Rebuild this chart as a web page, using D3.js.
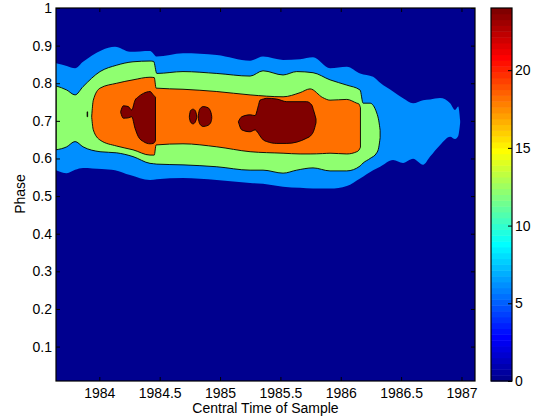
<!DOCTYPE html>
<html><head><meta charset="utf-8">
<script src="https://cdn.jsdelivr.net/npm/d3@7"></script>
<style>body{margin:0;background:#fff}svg{display:block}</style>
</head><body>
<svg id="chart" width="536" height="420"></svg>
<script>
// ---------- data ----------
const xTicks = [1984, 1984.5, 1985, 1985.5, 1986, 1986.5, 1987];
const yTicks = [0.1, 0.2, 0.3, 0.4, 0.5, 0.6, 0.7, 0.8, 0.9, 1];
const cbTicks = [0, 5, 10, 15, 20];
const xDomain = [1983.641, 1987.112];
const yDomain = [0.0085, 1];
const cbDomain = [0, 24];
const levelBase = 0;      // background region level
const levelLightBlue = 6;
const levelGreen = 12;
const levelOrange = 18;
const levelRed = 24;

// light-blue region (level 6)
const lightBlueTime = [1983.641, 1983.730, 1983.799, 1983.865, 1984.020, 1984.130, 1984.254, 1984.420, 1984.476, 1984.693, 1984.973, 1985.249, 1985.356, 1985.522, 1985.663, 1985.770, 1985.911, 1986.050, 1986.160, 1986.268, 1986.326, 1986.433, 1986.516, 1986.599, 1986.682, 1986.740, 1986.823, 1986.906, 1986.947, 1986.973, 1986.989];
const lightBlueHi = [0.853, 0.846, 0.840, 0.857, 0.888, 0.897, 0.884, 0.886, 0.871, 0.880, 0.875, 0.860, 0.871, 0.862, 0.864, 0.869, 0.840, 0.844, 0.826, 0.817, 0.801, 0.778, 0.760, 0.747, 0.755, 0.757, 0.761, 0.747, 0.729, 0.738, 0.700];
const lightBlueLo = [0.569, 0.561, 0.570, 0.575, 0.572, 0.569, 0.556, 0.543, 0.545, 0.548, 0.543, 0.535, 0.533, 0.525, 0.522, 0.520, 0.520, 0.527, 0.547, 0.569, 0.578, 0.596, 0.588, 0.599, 0.583, 0.605, 0.636, 0.658, 0.652, 0.660, 0.695];

// green region (level 12)
const greenTime = [1983.641, 1983.730, 1983.799, 1983.865, 1984.006, 1984.144, 1984.279, 1984.420, 1984.450, 1984.476, 1984.693, 1984.973, 1985.249, 1985.356, 1985.522, 1985.635, 1985.770, 1985.911, 1986.050, 1986.160, 1986.185, 1986.243, 1986.298, 1986.315, 1986.326];
const greenHi = [0.793, 0.782, 0.769, 0.791, 0.831, 0.848, 0.857, 0.859, 0.858, 0.826, 0.831, 0.826, 0.819, 0.833, 0.822, 0.831, 0.828, 0.809, 0.795, 0.782, 0.747, 0.747, 0.721, 0.700, 0.675];
const greenLo = [0.623, 0.631, 0.645, 0.631, 0.618, 0.615, 0.605, 0.587, 0.586, 0.585, 0.583, 0.578, 0.569, 0.569, 0.561, 0.569, 0.575, 0.567, 0.567, 0.580, 0.588, 0.600, 0.615, 0.630, 0.655];

// orange region (level 18)
const orangeTime = [1983.937, 1983.950, 1984.006, 1984.144, 1984.279, 1984.420, 1984.455, 1984.470, 1984.693, 1984.973, 1985.249, 1985.522, 1985.663, 1985.746, 1985.850, 1985.911, 1986.050, 1986.133, 1986.150, 1986.163];
const orangeHi = [0.713, 0.755, 0.787, 0.800, 0.809, 0.816, 0.815, 0.787, 0.784, 0.778, 0.769, 0.764, 0.775, 0.785, 0.762, 0.755, 0.757, 0.747, 0.745, 0.735];
const orangeLo = [0.709, 0.676, 0.649, 0.633, 0.623, 0.609, 0.609, 0.636, 0.639, 0.631, 0.618, 0.614, 0.612, 0.612, 0.613, 0.614, 0.612, 0.618, 0.622, 0.630];

// small isolated contour near 1983.9
const markTime = [1983.899, 1983.903];
const markHi = [0.724, 0.724];
const markLo = [0.711, 0.711];

// dark-red islands (level 24)
const redATime = [1984.177, 1984.199, 1984.240, 1984.268, 1984.296, 1984.323, 1984.365, 1984.420, 1984.447, 1984.465];
const redAHi = [0.725, 0.740, 0.738, 0.729, 0.755, 0.764, 0.773, 0.778, 0.769, 0.763];
const redALo = [0.722, 0.707, 0.708, 0.711, 0.680, 0.658, 0.645, 0.639, 0.640, 0.647];

const redBTime = [1984.746, 1984.755, 1984.776, 1984.795, 1984.807];
const redBHi = [0.713, 0.727, 0.731, 0.727, 0.713];
const redBLo = [0.709, 0.697, 0.692, 0.697, 0.709];

const redCTime = [1984.820, 1984.830, 1984.860, 1984.900, 1984.925, 1984.931];
const redCHi = [0.715, 0.730, 0.738, 0.735, 0.722, 0.712];
const redCLo = [0.707, 0.693, 0.685, 0.688, 0.697, 0.706];

const redDTime = [1985.152, 1985.180, 1985.249, 1985.290, 1985.317, 1985.331, 1985.359, 1985.387, 1985.470, 1985.553, 1985.718, 1985.760, 1985.773, 1985.795];
const redDHi = [0.698, 0.711, 0.716, 0.714, 0.740, 0.755, 0.758, 0.760, 0.758, 0.751, 0.751, 0.742, 0.730, 0.705];
const redDLo = [0.697, 0.676, 0.671, 0.676, 0.667, 0.660, 0.649, 0.645, 0.640, 0.640, 0.654, 0.664, 0.671, 0.695];

// ---------- colormap (MATLAB jet, 64 colours) ----------
function jet(m) {
  const n = Math.ceil(m / 4), u = [];
  for (let i = 1; i <= n; i++) u.push(i / n);
  for (let i = 1; i < n; i++) u.push(1);
  for (let i = n; i >= 1; i--) u.push(i / n);
  const g0 = Math.ceil(n / 2) - (m % 4 === 1 ? 1 : 0);
  const rows = Array.from({length: m}, () => [0, 0, 0]);
  u.forEach((v, k) => {
    const gi = g0 + k + 1, ri = gi + n, bi = gi - n;
    if (gi >= 1 && gi <= m) rows[gi - 1][1] = v;
    if (ri >= 1 && ri <= m) rows[ri - 1][0] = v;
    if (bi >= 1 && bi <= m) rows[bi - 1][2] = v;
  });
  return rows.map(r => d3.rgb(r[0] * 255, r[1] * 255, r[2] * 255).formatHex());
}
const cmap = jet(64);
const colorOf = v => cmap[Math.min(63, Math.floor((v - cbDomain[0]) / (cbDomain[1] - cbDomain[0]) * 64))];

// ---------- layout ----------
const L = 56, R = 475, T = 8, B = 381;
const CBL = 491, CBR = 512;
const FONT = "'Liberation Sans', Arial, Helvetica, sans-serif";

const svg = d3.select("#chart");
const x = d3.scaleLinear().domain(xDomain).range([L, R]);
const y = d3.scaleLinear().domain(yDomain).range([B, T]);
const cb = d3.scaleLinear().domain(cbDomain).range([B, T]);

svg.append("defs").append("clipPath").attr("id", "plotclip")
  .append("rect").attr("x", L).attr("y", T).attr("width", R - L).attr("height", B - T);

const plot = svg.append("g").attr("clip-path", "url(#plotclip)");
plot.append("rect").attr("x", L).attr("y", T).attr("width", R - L).attr("height", B - T)
  .attr("fill", colorOf(levelBase));

function region(times, lo, hi, level, stroke) {
  const pts = times.map((t, i) => ({t, lo: lo[i], hi: hi[i]}));
  const area = d3.area().x(d => x(d.t)).y0(d => y(d.lo)).y1(d => y(d.hi)).curve(d3.curveMonotoneX);
  plot.append("path").datum(pts).attr("d", area)
    .attr("fill", colorOf(level))
    .attr("stroke", stroke ? "#000" : "none")
    .attr("stroke-width", 0.9)
    .attr("stroke-linejoin", "round");
}
region(lightBlueTime, lightBlueLo, lightBlueHi, levelLightBlue, false);
region(greenTime, greenLo, greenHi, levelGreen, true);
region(orangeTime, orangeLo, orangeHi, levelOrange, true);
region(markTime, markLo, markHi, levelOrange, true);
region(redATime, redALo, redAHi, levelRed, true);
region(redBTime, redBLo, redBHi, levelRed, true);
region(redCTime, redCLo, redCHi, levelRed, true);
region(redDTime, redDLo, redDHi, levelRed, true);

// ---------- axes ----------
function styleAxis(g) {
  g.select(".domain").remove();
  g.selectAll("text").attr("font-family", FONT).attr("font-size", 14).attr("fill", "#000");
  g.selectAll("line").attr("stroke", "#000");
}
const fmt = d => String(d);
svg.append("g").attr("transform", `translate(0,${B})`)
  .call(d3.axisBottom(x).tickValues(xTicks).tickFormat(fmt).tickSizeInner(-4).tickSizeOuter(0).tickPadding(7))
  .call(styleAxis);
svg.append("g").attr("transform", `translate(0,${T})`)
  .call(d3.axisTop(x).tickValues(xTicks).tickFormat("").tickSizeInner(-4).tickSizeOuter(0))
  .call(styleAxis);
svg.append("g").attr("transform", `translate(${L},0)`)
  .call(d3.axisLeft(y).tickValues(yTicks).tickFormat(fmt).tickSizeInner(-4).tickSizeOuter(0).tickPadding(4))
  .call(styleAxis);
svg.append("g").attr("transform", `translate(${R},0)`)
  .call(d3.axisRight(y).tickValues(yTicks).tickFormat("").tickSizeInner(-4).tickSizeOuter(0))
  .call(styleAxis);

svg.append("rect").attr("x", L).attr("y", T).attr("width", R - L).attr("height", B - T)
  .attr("fill", "none").attr("stroke", "#000").attr("stroke-width", 1.2);

// labels
svg.append("text").attr("x", (L + R) / 2).attr("y", 413).attr("text-anchor", "middle")
  .attr("font-family", FONT).attr("font-size", 14).text("Central Time of Sample");
svg.append("text").attr("transform", "translate(25,194) rotate(-90)").attr("text-anchor", "middle")
  .attr("font-family", FONT).attr("font-size", 14).text("Phase");

// ---------- colorbar ----------
const bandH = (B - T) / 64;
svg.append("g").selectAll("rect").data(cmap).join("rect")
  .attr("x", CBL).attr("width", CBR - CBL)
  .attr("y", (d, i) => cb(cbDomain[0] + (i + 1) * (cbDomain[1] - cbDomain[0]) / 64))
  .attr("height", bandH + 0.5)
  .attr("fill", d => d);
svg.append("g").attr("transform", `translate(${CBR},0)`)
  .call(d3.axisRight(cb).tickValues(cbTicks).tickFormat(fmt).tickSizeInner(-4).tickSizeOuter(0).tickPadding(3))
  .call(styleAxis);
svg.append("rect").attr("x", CBL).attr("y", T).attr("width", CBR - CBL).attr("height", B - T)
  .attr("fill", "none").attr("stroke", "#000").attr("stroke-width", 1.2);
</script>
</body></html>
